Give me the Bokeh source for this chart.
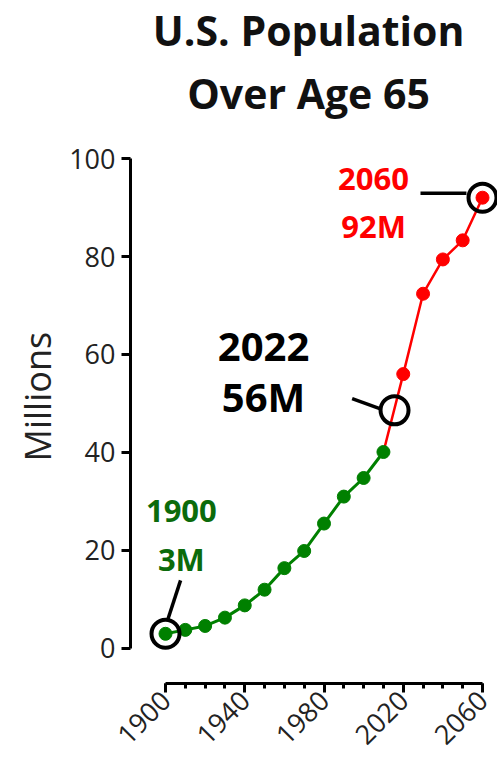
import math

from bokeh.plotting import figure
from bokeh.models import Range1d, FixedTicker, Label, Title
from bokeh.embed import file_html
from bokeh.resources import INLINE

# U.S. population aged 65+, in millions (census counts, then projections)
hist_years = [1900, 1910, 1920, 1930, 1940, 1950, 1960, 1970, 1980, 1990, 2000, 2010]
hist_pop = [3.0, 3.8, 4.6, 6.3, 8.8, 12.0, 16.4, 19.9, 25.5, 31.0, 34.8, 40.1]

proj_years = [2010, 2020, 2030, 2040, 2050, 2060]
proj_pop = [40.1, 56.0, 72.4, 79.4, 83.3, 92.0]

# highlighted points (open rings) and their callouts
ring_years = [1900, 2015.6, 2060]
ring_pop = [3.0, 48.6, 92.0]

x_ticks = [1900, 1940, 1980, 2020, 2060]
x_minor = list(range(1900, 2061, 10))
y_ticks = [0, 20, 40, 60, 80, 100]

GREEN = "#008000"
GREEN_TEXT = "#0b6b0b"
RED = "#ff0000"
FONT = "Open Sans"
PX_PER_UNIT = 4.9  # vertical scale of the frame, pixels per million

p = figure(
    width=497, height=765, title=None,
    x_range=Range1d(1882.33, 2067.57),
    y_range=Range1d(-7.143, 132.245),
    output_backend="svg", toolbar_location=None,
    min_border_left=130, min_border_right=0,
    min_border_top=0, min_border_bottom=82,
)
p.outline_line_color = None
p.grid.visible = False
p.background_fill_color = "white"
p.border_fill_color = "white"

# axes, offset from the data and limited to the data span
xa = p.xaxis[0]
xa.bounds = (1900, 2060)
xa.ticker = FixedTicker(ticks=x_ticks, minor_ticks=x_minor)
xa.major_label_orientation = math.pi / 4

ya = p.yaxis[0]
ya.bounds = (0, 100)
ya.ticker = FixedTicker(ticks=y_ticks, minor_ticks=[])

for ax in (xa, ya):
    ax.axis_line_width = 3
    ax.axis_line_color = "black"
    ax.major_tick_line_width = 3
    ax.major_tick_line_color = "black"
    ax.minor_tick_line_width = 3
    ax.minor_tick_line_color = "black"
    ax.major_tick_in = 0
    ax.major_tick_out = 9
    ax.minor_tick_in = 0
    ax.minor_tick_out = 5
    ax.major_label_text_font = FONT
    ax.major_label_text_font_size = "27px"
    ax.major_label_text_color = "#222222"
xa.major_label_standoff = 3
ya.major_label_standoff = 6

# y-axis caption, placed along the left side from the bottom of the frame
p.add_layout(Title(
    text="Millions", align="left", offset=222, standoff=10,
    text_font=FONT, text_font_size="36px", text_font_style="normal",
    text_color="#222222",
), "left")

# projected series
p.line(proj_years, proj_pop, line_color=RED, line_width=2.5)
p.scatter(proj_years[1:], proj_pop[1:], size=13, fill_color=RED, line_color=RED)

# historical series
p.line(hist_years, hist_pop, line_color=GREEN, line_width=3)
p.scatter(hist_years, hist_pop, size=13, fill_color=GREEN, line_color=GREEN)

# callout leaders and rings
p.segment(x0=[1907.6, 1994.2, 2028.7], y0=[13.9, 51.0, 92.9],
          x1=[1901.0, 2008.5, 2051.9], y1=[5.7, 48.9, 92.9],
          line_color="black", line_width=3.5)
p.scatter(ring_years, ring_pop, size=28, fill_color=None,
          line_color="black", line_width=4)


def add_text(x, y, text, size_px, color):
    # y is the wanted baseline; the label anchor sits ~0.41 em above it
    lift = 0.41 * size_px / PX_PER_UNIT
    p.add_layout(Label(
        x=x, y=y + lift, text=text, text_align="center",
        text_baseline="alphabetic",
        text_font=FONT, text_font_size=f"{size_px}px",
        text_font_style="bold", text_color=color,
    ))


add_text(1949.5, 58.2, "2022", 40, "black")
add_text(1949.5, 48.0, "56M", 40, "black")
add_text(2005.0, 93.3, "2060", 31, RED)
add_text(2005.0, 83.7, "92M", 31, RED)
add_text(1908.0, 25.4, "1900", 31, GREEN_TEXT)
add_text(1908.0, 15.6, "3M", 31, GREEN_TEXT)

# chart title
add_text(1972.2, 122.86, "U.S. Population", 41, "#111111")
add_text(1972.2, 110.0, "Over Age 65", 41, "#111111")

open("out.html", "w").write(file_html(p, INLINE))
